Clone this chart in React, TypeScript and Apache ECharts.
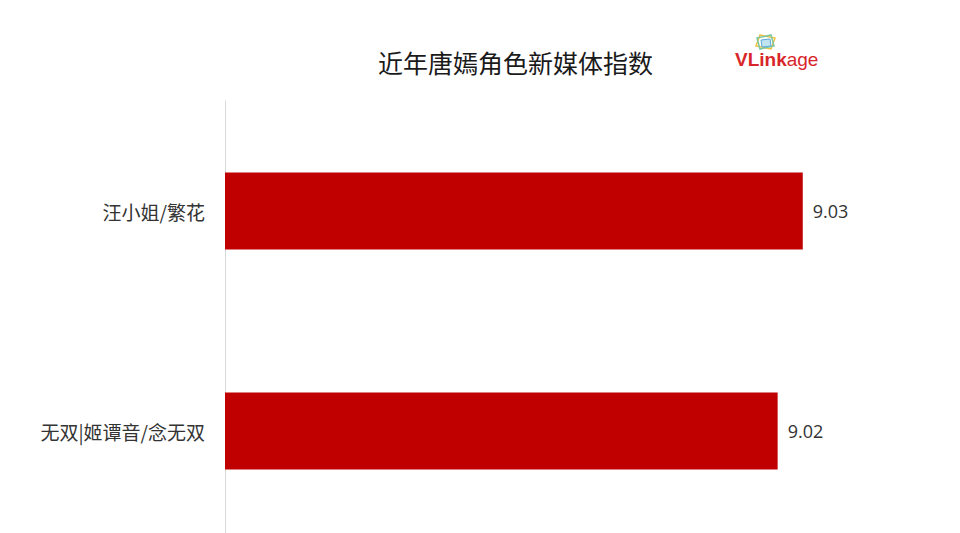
import React, { useEffect, useRef } from "react";
import * as echarts from "echarts";

const categories = ["汪小姐/繁花", "无双|姬谭音/念无双"];
const values = [9.03, 9.02];
const titleText = "近年唐嫣角色新媒体指数";

export default function App() {
  const ref = useRef<HTMLDivElement>(null);
  useEffect(() => {
    document.body.style.margin = "0";
    document.body.style.overflow = "hidden";
    document.documentElement.style.overflow = "hidden";
    const chart = echarts.init(ref.current!, null, { renderer: "svg" });
    chart.setOption({
      animation: false,
      backgroundColor: "#ffffff",
      title: {
        text: titleText,
        left: 373,
        top: 44,
        textStyle: {
          fontFamily: "Noto Sans CJK SC",
          fontSize: 25,
          fontWeight: "normal",
          color: "#1a1a1a",
        },
      },
      graphic: [
        {
          type: "polygon",
          shape: { points: [[760, 35], [775, 38], [771, 49], [756, 46]] },
          style: { fill: "none", stroke: "#f0c040", lineWidth: 1.5 },
        },
        {
          type: "polygon",
          shape: { points: [[757, 38], [771, 35], [774, 46], [760, 49]] },
          style: { fill: "none", stroke: "#7cc8a0", lineWidth: 1.5 },
        },
        {
          type: "polygon",
          shape: { points: [[761, 40], [770, 39], [771, 46], [762, 47]] },
          style: { fill: "#bfe3f0", stroke: "#5aa9d6", lineWidth: 1 },
        },
        {
          type: "text",
          x: 735,
          y: 50,
          style: {
            text: "{a|VLink}{b|age}",
            rich: {
              a: { fontFamily: "Liberation Sans", fontSize: 19, fontWeight: "bold", fill: "#d9262b" },
              b: { fontFamily: "Liberation Sans", fontSize: 19, fontWeight: "normal", fill: "#d9262b" },
            },
          },
        },
      ],
      grid: { left: 225, width: 628, top: 101, bottom: 0, containLabel: false },
      xAxis: {
        type: "value",
        min: 8.8,
        max: 9.05,
        show: false,
        splitLine: { show: false },
      },
      yAxis: {
        type: "category",
        data: categories,
        inverse: true,
        axisLine: { show: true, lineStyle: { color: "#d9d9d9", width: 1 } },
        axisTick: { show: false },
        axisLabel: {
          fontFamily: "Noto Sans CJK SC",
          fontSize: 19,
          color: "#333333",
          margin: 20,
        },
      },
      series: [
        {
          type: "bar",
          data: values,
          barWidth: 77,
          itemStyle: { color: "#c00000" },
          label: {
            show: true,
            position: "right",
            distance: 10,
            formatter: (p: any) => p.value.toFixed(2),
            fontFamily: "Open Sans",
            fontSize: 18,
            color: "#333333",
          },
        },
      ],
    });
    return () => chart.dispose();
  }, []);
  return <div ref={ref} style={{ width: 960, height: 541 }} />;
}
